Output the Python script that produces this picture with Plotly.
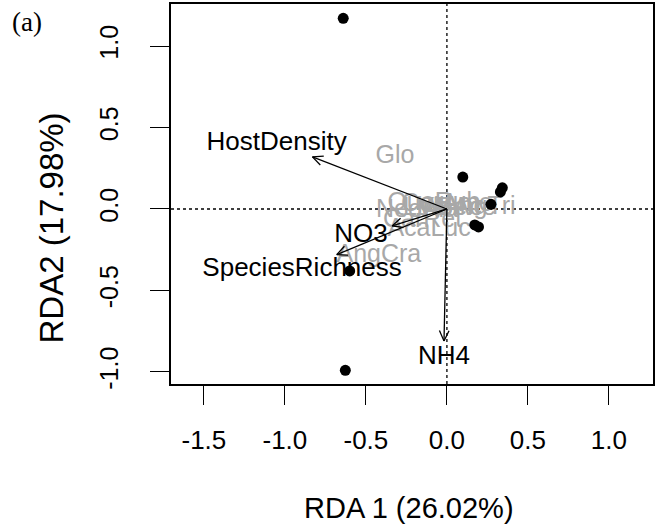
import numpy as np
import plotly.graph_objects as go

# Site scores (black points)
site_x = [-0.64, -0.627, 0.098, 0.342, 0.33, 0.272, 0.172, 0.195, -0.60]
site_y = [1.17, -0.99, 0.196, 0.13, 0.105, 0.029, -0.098, -0.11, -0.38]

# Environmental vectors (arrows)
env_names = ["HostDensity", "NO3", "SpeciesRichness", "NH4"]
env_x = [-0.83, -0.338, -0.68, -0.018]
env_y = [0.32, -0.104, -0.28, -0.81]
env_lab_x = [-1.051, -0.53, -0.894, -0.018]
env_lab_y = [0.405, -0.16, -0.374, -0.91]

# Species scores (gray labels)
sp_names = ["Glo", "AngCra", "AngTri", "NeoAla", "AcaLuc", "CarRet",
            "QueRub", "CorAme", "LinBen", "VibAce"]
sp_x = [-0.32, -0.42, 0.20, -0.185, -0.11, -0.15, -0.08, 0.0, -0.03, 0.06]
sp_y = [0.32, -0.285, 0.01, -0.01, -0.13, -0.07, 0.03, 0.025, 0.0, 0.0]

x_ticks = [-1.5, -1.0, -0.5, 0.0, 0.5, 1.0]
y_ticks = [-1.0, -0.5, 0.0, 0.5, 1.0]

fig = go.Figure()

# species labels
fig.add_trace(go.Scatter(
    x=sp_x, y=sp_y, mode="text", text=sp_names,
    textfont=dict(family="Liberation Sans, Arial", size=25, color="#a8a8a8"),
    textposition="middle center", hoverinfo="skip", showlegend=False))

# arrows (shaft + open heads)
head_len = 0.07
head_ang = np.deg2rad(25)
ax_pts, ay_pts = [], []
for ex, ey in zip(env_x, env_y):
    ang = np.arctan2(ey, ex)
    ax_pts += [0, ex, None]
    ay_pts += [0, ey, None]
    for s in (1, -1):
        a = ang + np.pi + s * head_ang
        ax_pts += [ex + head_len * np.cos(a), ex, None]
        ay_pts += [ey + head_len * np.sin(a), ey, None]
fig.add_trace(go.Scatter(x=ax_pts, y=ay_pts, mode="lines",
                         line=dict(color="black", width=1.3),
                         hoverinfo="skip", showlegend=False))

# env labels
fig.add_trace(go.Scatter(
    x=env_lab_x, y=env_lab_y, mode="text", text=env_names,
    textfont=dict(family="Liberation Sans, Arial", size=26, color="black"),
    textposition="middle center", hoverinfo="skip", showlegend=False))

# site points
fig.add_trace(go.Scatter(
    x=site_x, y=site_y, mode="markers",
    marker=dict(color="black", size=11),
    hoverinfo="skip", showlegend=False))

# dotted origin lines
fig.add_shape(type="line", xref="paper", yref="y", x0=0, x1=1, y0=0, y1=0,
              line=dict(color="black", width=1.3, dash="dot"), layer="below")
fig.add_shape(type="line", xref="x", yref="paper", x0=0, x1=0, y0=0, y1=1,
              line=dict(color="black", width=1.3, dash="dot"), layer="below")

axis_font = dict(family="Liberation Sans, Arial", size=26, color="black")
fig.update_xaxes(range=[-1.703, 1.272], tickvals=x_ticks,
                 ticktext=[f"{v:.1f}" for v in x_ticks],
                 ticks="outside", ticklen=19, tickwidth=1.3, tickcolor="black",
                 showline=True, mirror=True, linecolor="black", linewidth=1.5,
                 showgrid=False, zeroline=False, tickfont=axis_font,
                 ticklabelstandoff=13)
fig.update_yaxes(range=[-1.074, 1.258], tickvals=y_ticks,
                 ticktext=[f"{v:.1f}" for v in y_ticks],
                 ticks="outside", ticklen=19, tickwidth=1.3, tickcolor="black",
                 showline=True, mirror=True, linecolor="black", linewidth=1.5,
                 showgrid=False, zeroline=False, tickfont=dict(axis_font, size=25),
                 tickangle=-90, ticklabelstandoff=22)

fig.add_annotation(text="RDA 1 (26.02%)", xref="paper", yref="paper",
                   x=(410 - 171) / 484, y=-(508 - 384) / 380,
                   showarrow=False, xanchor="center", yanchor="middle",
                   font=dict(family="Liberation Sans, Arial", size=29, color="black"))
fig.add_annotation(text="RDA2 (17.98%)", xref="paper", yref="paper",
                   x=-(171 - 51) / 484, y=(384 - 228) / 380, textangle=-90,
                   showarrow=False, xanchor="center", yanchor="middle",
                   font=dict(family="Liberation Sans, Arial", size=33, color="black"))
fig.add_annotation(text="(a)", xref="paper", yref="paper",
                   x=-(171 - 26) / 484, y=(384 - 22) / 380,
                   showarrow=False, xanchor="center", yanchor="middle",
                   font=dict(family="Liberation Serif, Times New Roman", size=27, color="black"))

fig.update_layout(width=657, height=531,
                  margin=dict(l=171, r=2, t=4, b=147),
                  plot_bgcolor="white", paper_bgcolor="white")

fig.write_html("out.html", config={"displayModeBar": False},
               post_script="document.body.style.margin='0';document.body.style.overflow='hidden';")
